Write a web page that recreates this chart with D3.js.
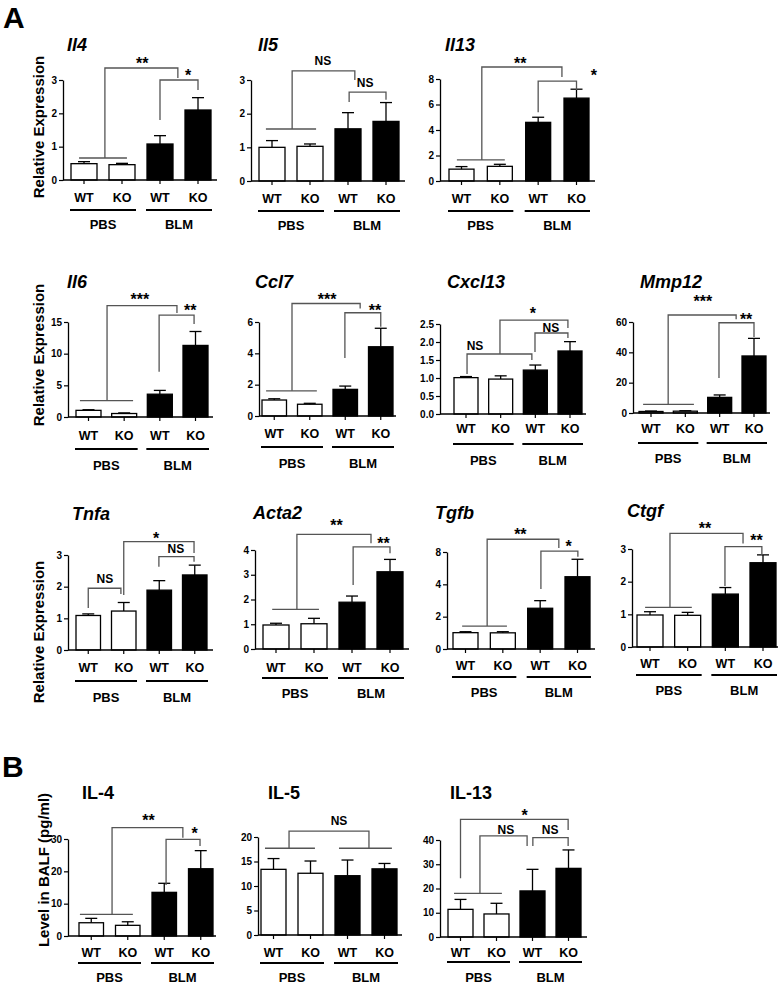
<!DOCTYPE html>
<html><head><meta charset="utf-8">
<script src="https://cdn.jsdelivr.net/npm/d3@7"></script>
<style>
html,body{margin:0;padding:0;background:#fff;}
svg{display:block;font-family:"Liberation Sans",Arial,Helvetica,sans-serif;font-weight:bold;}
</style></head><body>
<svg id="chart" width="784" height="985"></svg>
<script>
// ---------- categories ----------
const genotypes = ["WT", "KO", "WT", "KO"];
const treatments = ["PBS", "BLM"];

// ---------- series values (mean, SEM) ----------
const meanIl4 = [0.49, 0.46, 1.08, 2.10];   const semIl4 = [0.06, 0.04, 0.25, 0.37];
const meanIl5 = [1.00, 1.03, 1.55, 1.77];   const semIl5 = [0.20, 0.07, 0.48, 0.56];
const meanIl13 = [0.93, 1.15, 4.60, 6.50];  const semIl13 = [0.20, 0.16, 0.40, 0.70];
const meanIl6 = [1.05, 0.55, 3.60, 11.3];   const semIl6 = [0.10, 0.10, 0.60, 2.20];
const meanCcl7 = [1.02, 0.75, 1.70, 4.42];  const semCcl7 = [0.08, 0.06, 0.21, 1.18];
const meanCxcl13 = [1.01, 0.97, 1.22, 1.75]; const semCxcl13 = [0.03, 0.09, 0.14, 0.26];
const meanMmp12 = [1.0, 1.2, 10.3, 37.6];   const semMmp12 = [0.3, 0.3, 1.6, 11.6];
const meanTnfa = [1.09, 1.23, 1.89, 2.37];  const semTnfa = [0.05, 0.27, 0.30, 0.31];
const meanActa2 = [0.97, 1.02, 1.89, 3.12]; const semActa2 = [0.07, 0.22, 0.25, 0.50];
const meanTgfb = [1.01, 1.00, 2.52, 4.47];  const semTgfb = [0.06, 0.07, 0.47, 1.08];
const meanCtgf = [0.98, 0.97, 1.62, 2.58];  const semCtgf = [0.10, 0.09, 0.20, 0.24];
const meanIL4 = [4.1, 3.3, 13.5, 20.8];     const semIL4 = [1.36, 1.1, 2.8, 5.6];
const meanIL5 = [13.4, 12.6, 12.1, 13.5];   const semIL5 = [2.2, 2.5, 3.2, 1.1];
const meanIL13 = [11.4, 9.5, 19.0, 28.3];   const semIL13 = [4.1, 4.4, 8.9, 7.6];

// ---------- tick values / labels ----------
const ticks3 = [0, 1, 2, 3];           const labels3 = ["0", "1", "2", "3"];
const ticks8 = [0, 2, 4, 6, 8];        const labels8 = ["0", "2", "4", "6", "8"];
const ticks15 = [0, 5, 10, 15];        const labels15 = ["0", "5", "10", "15"];
const ticks6 = [0, 2, 4, 6];           const labels6 = ["0", "2", "4", "6"];
const ticks25 = [0, 0.5, 1, 1.5, 2, 2.5]; const labels25 = ["0.0", "0.5", "1.0", "1.5", "2.0", "2.5"];
const ticks60 = [0, 20, 40, 60];       const labels60 = ["0", "20", "40", "60"];
const ticks4 = [0, 1, 2, 3, 4];        const labels4 = ["0", "1", "2", "3", "4"];
const ticksTgfb = [0, 2, 4, 6];        const labelsTgfb = ["0", "2", "4", "8"];
const ticks30 = [0, 10, 20, 30];       const labels30 = ["0", "10", "20", "30"];
const ticks20 = [0, 5, 10, 15, 20];    const labels20 = ["0", "5", "10", "15", "20"];
const ticks40 = [0, 10, 20, 30, 40];   const labels40 = ["0", "10", "20", "30", "40"];

// ---------- significance annotations (x in bar-index units, y in data units) ----------
const sigIl4 = [
  {type: "line", x1: -0.13, x2: 1.13, y: 0.66},
  {type: "br", x1: 0.55, x2: 2.47, top: 3.36, b1: 0.66, b2: 3.06},
  {type: "txt", x: 1.53, y: 3.33, t: "**"},
  {type: "br", x1: 2.0, x2: 3.0, top: 3.0, b1: 1.8, b2: 2.7},
  {type: "txt", x: 2.74, y: 2.985, t: "*"}
];
const sigIl5 = [
  {type: "line", x1: -0.16, x2: 1.16, y: 1.545},
  {type: "br", x1: 0.53, x2: 2.18, top: 3.27, b1: 1.545, b2: 3.0},
  {type: "txt", x: 1.34, y: 3.45, t: "NS"},
  {type: "br", x1: 2.03, x2: 3.0, top: 2.64, b1: 2.35, b2: 2.41},
  {type: "txt", x: 2.45, y: 2.79, t: "NS"}
];
const sigIl13 = [
  {type: "line", x1: -0.12, x2: 1.13, y: 1.65},
  {type: "br", x1: 0.53, x2: 2.62, top: 8.94, b1: 1.65, b2: 8.15},
  {type: "txt", x: 1.53, y: 8.78, t: "**"},
  {type: "br", x1: 2.0, x2: 3.0, top: 7.84, b1: 5.4, b2: 7.13},
  {type: "txt", x: 3.45, y: 7.84, t: "*"}
];
const sigIl6 = [
  {type: "line", x1: -0.24, x2: 1.25, y: 2.57},
  {type: "br", x1: 0.52, x2: 2.48, top: 17.57, b1: 2.57, b2: 16.42},
  {type: "txt", x: 1.44, y: 17.68, t: "***"},
  {type: "br", x1: 1.98, x2: 2.96, top: 16.1, b1: 7.15, b2: 14.68},
  {type: "txt", x: 2.85, y: 15.87, t: "**"}
];
const sigCcl7 = [
  {type: "line", x1: -0.23, x2: 1.2, y: 1.61},
  {type: "br", x1: 0.5, x2: 2.42, top: 7.18, b1: 1.61, b2: 6.86},
  {type: "txt", x: 1.49, y: 7.08, t: "***"},
  {type: "br", x1: 1.99, x2: 3.0, top: 6.59, b1: 3.7, b2: 5.7},
  {type: "txt", x: 2.84, y: 6.38, t: "**"}
];
const sigCxcl13 = [
  {type: "br", x1: 0.03, x2: 1.9, top: 1.667, b1: 1.11, b2: 1.5},
  {type: "txt", x: 0.26, y: 1.78, t: "NS"},
  {type: "br", x1: 0.98, x2: 2.94, top: 2.61, b1: 1.667, b2: 2.39},
  {type: "txt", x: 1.93, y: 2.64, t: "*"},
  {type: "br", x1: 1.99, x2: 2.94, top: 2.25, b1: 1.72, b2: 2.11},
  {type: "txt", x: 2.45, y: 2.28, t: "NS"}
];
const sigMmp12 = [
  {type: "line", x1: -0.23, x2: 1.25, y: 5.74},
  {type: "br", x1: 0.5, x2: 2.48, top: 64.6, b1: 5.74, b2: 61.8},
  {type: "txt", x: 1.51, y: 69.9, t: "***"},
  {type: "br", x1: 1.98, x2: 3.0, top: 59.5, b1: 23.1, b2: 50.1},
  {type: "txt", x: 2.77, y: 58.35, t: "**"}
];
const sigTnfa = [
  {type: "br", x1: 0, x2: 0.92, top: 1.95, b1: 1.33, b2: 1.77},
  {type: "txt", x: 0.47, y: 2.12, t: "NS"},
  {type: "br", x1: 1.0, x2: 2.98, top: 3.42, b1: 1.74, b2: 3.06},
  {type: "txt", x: 1.91, y: 3.36, t: "*"},
  {type: "br", x1: 1.99, x2: 2.98, top: 2.95, b1: 2.63, b2: 2.79},
  {type: "txt", x: 2.47, y: 3.06, t: "NS"}
];
const sigActa2 = [
  {type: "line", x1: -0.1, x2: 1.13, y: 1.6},
  {type: "br", x1: 0.55, x2: 2.5, top: 4.63, b1: 1.6, b2: 4.27},
  {type: "txt", x: 1.59, y: 4.75, t: "**"},
  {type: "br", x1: 2.03, x2: 3.0, top: 4.13, b1: 2.59, b2: 3.87},
  {type: "txt", x: 2.83, y: 4.06, t: "**"}
];
const sigTgfb = [
  {type: "line", x1: -0.09, x2: 1.11, y: 1.42},
  {type: "br", x1: 0.58, x2: 2.5, top: 6.79, b1: 1.42, b2: 6.25},
  {type: "txt", x: 1.47, y: 6.77, t: "**"},
  {type: "br", x1: 2.02, x2: 3.01, top: 6.06, b1: 3.71, b2: 5.71},
  {type: "txt", x: 2.76, y: 5.97, t: "*"}
];
const sigCtgf = [
  {type: "line", x1: -0.13, x2: 1.11, y: 1.215},
  {type: "br", x1: 0.53, x2: 2.47, top: 3.48, b1: 1.215, b2: 3.17},
  {type: "txt", x: 1.46, y: 3.46, t: "**"},
  {type: "br", x1: 1.99, x2: 2.97, top: 3.07, b1: 1.87, b2: 2.82},
  {type: "txt", x: 2.83, y: 3.08, t: "**"}
];
const sigIL4 = [
  {type: "line", x1: -0.31, x2: 1.14, y: 6.71},
  {type: "br", x1: 0.57, x2: 2.51, top: 33.5, b1: 6.71, b2: 30.4},
  {type: "txt", x: 1.57, y: 33.9, t: "**"},
  {type: "br", x1: 2.05, x2: 2.98, top: 29.9, b1: 15.8, b2: 27.8},
  {type: "txt", x: 2.83, y: 30.0, t: "*"}
];
const sigIL5 = [
  {type: "line", x1: -0.23, x2: 1.12, y: 17.7},
  {type: "line", x1: 1.77, x2: 3.2, y: 17.7},
  {type: "br", x1: 0.42, x2: 2.58, top: 21.2, b1: 17.7, b2: 17.7},
  {type: "txt", x: 1.77, y: 22.45, t: "NS"}
];
const sigIL13 = [
  {type: "line", x1: -0.18, x2: 1.15, y: 18.0},
  {type: "br", x1: 0, x2: 2.99, top: 48.5, b1: 24.2, b2: 44.1},
  {type: "txt", x: 1.78, y: 48.0, t: "*"},
  {type: "br", x1: 0.54, x2: 1.85, top: 41.7, b1: 18.0, b2: 37.5},
  {type: "txt", x: 1.26, y: 42.5, t: "NS"},
  {type: "br", x1: 2.01, x2: 2.99, top: 41.0, b1: 37.5, b2: 37.5},
  {type: "txt", x: 2.49, y: 42.5, t: "NS"}
];

// ---------- panels ----------
const panels = [
  {key: "Il4", title: "Il4", italic: true, mean: meanIl4, sem: semIl4, max: 3, ticks: ticks3, labels: labels3, sig: sigIl4},
  {key: "Il5", title: "Il5", italic: true, mean: meanIl5, sem: semIl5, max: 3, ticks: ticks3, labels: labels3, sig: sigIl5},
  {key: "Il13", title: "Il13", italic: true, mean: meanIl13, sem: semIl13, max: 8, ticks: ticks8, labels: labels8, sig: sigIl13},
  {key: "Il6", title: "Il6", italic: true, mean: meanIl6, sem: semIl6, max: 15, ticks: ticks15, labels: labels15, sig: sigIl6},
  {key: "Ccl7", title: "Ccl7", italic: true, mean: meanCcl7, sem: semCcl7, max: 6, ticks: ticks6, labels: labels6, sig: sigCcl7},
  {key: "Cxcl13", title: "Cxcl13", italic: true, mean: meanCxcl13, sem: semCxcl13, max: 2.5, ticks: ticks25, labels: labels25, sig: sigCxcl13},
  {key: "Mmp12", title: "Mmp12", italic: true, mean: meanMmp12, sem: semMmp12, max: 60, ticks: ticks60, labels: labels60, sig: sigMmp12},
  {key: "Tnfa", title: "Tnfa", italic: true, mean: meanTnfa, sem: semTnfa, max: 3, ticks: ticks3, labels: labels3, sig: sigTnfa},
  {key: "Acta2", title: "Acta2", italic: true, mean: meanActa2, sem: semActa2, max: 4, ticks: ticks4, labels: labels4, sig: sigActa2},
  {key: "Tgfb", title: "Tgfb", italic: true, mean: meanTgfb, sem: semTgfb, max: 6, ticks: ticksTgfb, labels: labelsTgfb, sig: sigTgfb},
  {key: "Ctgf", title: "Ctgf", italic: true, mean: meanCtgf, sem: semCtgf, max: 3, ticks: ticks3, labels: labels3, sig: sigCtgf},
  {key: "IL4", title: "IL-4", italic: false, mean: meanIL4, sem: semIL4, max: 30, ticks: ticks30, labels: labels30, sig: sigIL4},
  {key: "IL5", title: "IL-5", italic: false, mean: meanIL5, sem: semIL5, max: 20, ticks: ticks20, labels: labels20, sig: sigIL5},
  {key: "IL13", title: "IL-13", italic: false, mean: meanIL13, sem: semIL13, max: 40, ticks: ticks40, labels: labels40, sig: sigIL13}
];

// ---------- layout (pixel geometry) ----------
const layout = {
  Il4:   {ax0: 63,  ax1: 217, b0: 71,  b1: 211, bw: 26,   yt: 80,  yb: 180, tx: 67,  ty: 51,  xl: 202, ul: 210, gl: 229},
  Il5:   {ax0: 251, ax1: 405, b0: 259, b1: 399, bw: 26,   yt: 80,  yb: 181, tx: 258, ty: 51,  xl: 203, ul: 211, gl: 230},
  Il13:  {ax0: 440, ax1: 595, b0: 449, b1: 589, bw: 25,   yt: 79,  yb: 181, tx: 445, ty: 51,  xl: 203, ul: 211, gl: 230},
  Il6:   {ax0: 68,  ax1: 213, b0: 76,  b1: 208, bw: 25,   yt: 322, yb: 417, tx: 67,  ty: 288, xl: 440, ul: 449, gl: 470},
  Ccl7:  {ax0: 259, ax1: 396, b0: 262, b1: 393, bw: 24.5, yt: 322, yb: 416, tx: 255, ty: 288, xl: 438, ul: 447, gl: 468},
  Cxcl13:{ax0: 440, ax1: 586, b0: 454, b1: 582, bw: 24,   yt: 324, yb: 414, tx: 447, ty: 288, xl: 433, ul: 444, gl: 465},
  Mmp12: {ax0: 633, ax1: 770, b0: 639, b1: 766, bw: 24,   yt: 322, yb: 413, tx: 640, ty: 288, xl: 433, ul: 443, gl: 463},
  Tnfa:  {ax0: 68,  ax1: 213, b0: 76,  b1: 207, bw: 24.5, yt: 555, yb: 650, tx: 72,  ty: 520, xl: 672, ul: 681, gl: 702},
  Acta2: {ax0: 255, ax1: 409, b0: 263, b1: 403, bw: 26,   yt: 550, yb: 649, tx: 253, ty: 519, xl: 672, ul: 678, gl: 698},
  Tgfb:  {ax0: 447, ax1: 595, b0: 453, b1: 590, bw: 25,   yt: 552, yb: 649, tx: 435, ty: 519, xl: 670, ul: 677, gl: 697},
  Ctgf:  {ax0: 632, ax1: 778, b0: 637, b1: 776, bw: 26,   yt: 549, yb: 647, tx: 627, ty: 517, xl: 668, ul: 675, gl: 695},
  IL4:   {ax0: 68,  ax1: 216, b0: 79,  b1: 213, bw: 24.5, yt: 839, yb: 936, tx: 82,  ty: 799, xl: 957, ul: 963, gl: 982},
  IL5:   {ax0: 258, ax1: 402, b0: 261, b1: 397, bw: 25,   yt: 837, yb: 935, tx: 268, ty: 799, xl: 957, ul: 963, gl: 982},
  IL13:  {ax0: 440, ax1: 587, b0: 448, b1: 581, bw: 25,   yt: 840, yb: 937, tx: 450, ty: 799, xl: 957, ul: 962, gl: 982}
};
const yTitles = [
  {text: "Relative Expression", x: 44, cy: 127},
  {text: "Relative Expression", x: 44, cy: 355},
  {text: "Relative Expression", x: 44, cy: 632},
  {text: "Level in BALF (pg/ml)", x: 49, cy: 870}
];
const panelLetters = [{text: "A", x: 3, y: 28}, {text: "B", x: 2, y: 777}];

const svg = d3.select("#chart");
const BR = "#555";

panels.forEach(p => {
  const L = layout[p.key];
  const g = svg.append("g").attr("class", "panel-" + p.key);
  const y = d3.scaleLinear().domain([0, p.max]).range([L.yb, L.yt]);
  const step = (L.b1 - L.b0 - L.bw) / 3;
  const x = d3.scaleBand().domain(d3.range(4)).range([L.b0, L.b1])
    .paddingInner(1 - L.bw / step).paddingOuter(0);
  const bw = x.bandwidth();
  const xc = t => x(0) + bw / 2 + t * x.step();

  // title
  g.append("text").attr("x", L.tx).attr("y", L.ty)
    .attr("font-size", 18).attr("font-style", p.italic ? "italic" : "normal")
    .text(p.title);

  // bars
  g.selectAll("rect.bar").data(p.mean).join("rect").attr("class", "bar")
    .attr("x", (d, i) => x(i)).attr("y", d => y(d))
    .attr("width", bw).attr("height", d => y(0) - y(d))
    .attr("fill", (d, i) => i < 2 ? "#fff" : "#000")
    .attr("stroke", "#000").attr("stroke-width", 1.3);

  // error bars (upper only)
  const eb = g.selectAll("g.err").data(p.mean).join("g").attr("class", "err")
    .attr("stroke", "#000").attr("stroke-width", 1.3);
  eb.append("line").attr("x1", (d, i) => xc(i)).attr("x2", (d, i) => xc(i))
    .attr("y1", d => y(d)).attr("y2", (d, i) => y(d + p.sem[i]));
  eb.append("line").attr("x1", (d, i) => xc(i) - 6).attr("x2", (d, i) => xc(i) + 6)
    .attr("y1", (d, i) => y(d + p.sem[i])).attr("y2", (d, i) => y(d + p.sem[i]));

  // y axis
  const ya = g.append("g").attr("transform", `translate(${L.ax0},0)`)
    .call(d3.axisLeft(y).tickValues(p.ticks).tickSize(4).tickSizeOuter(0).tickPadding(2)
      .tickFormat((d, i) => p.labels[i]));
  ya.selectAll("text").attr("font-size", 10).attr("font-weight", "bold")
    .attr("font-family", "Liberation Sans, Arial, sans-serif").attr("fill", "#000");
  ya.select(".domain").attr("stroke-width", 1.3);
  ya.selectAll(".tick line").attr("stroke-width", 1.2);

  // x axis: ticks + WT/KO labels
  const fsX = 12.5;
  const xa = g.append("g").attr("transform", `translate(0,${L.yb})`)
    .call(d3.axisBottom(x).tickSize(4).tickSizeOuter(0)
      .tickPadding(L.xl - L.yb - 4 - 0.71 * fsX)
      .tickFormat(i => genotypes[i]));
  xa.select(".domain").remove();
  xa.selectAll("text").attr("font-size", fsX).attr("font-weight", "bold")
    .attr("font-family", "Liberation Sans, Arial, sans-serif").attr("fill", "#000");
  xa.selectAll(".tick line").attr("stroke-width", 1.2);
  g.append("line").attr("x1", L.ax0).attr("x2", L.ax1).attr("y1", L.yb).attr("y2", L.yb)
    .attr("stroke", "#000").attr("stroke-width", 1.3);

  // treatment groups
  treatments.forEach((tName, gi) => {
    const xa0 = x(2 * gi) - 1, xa1 = x(2 * gi + 1) + bw + 1;
    g.append("line").attr("x1", xa0).attr("x2", xa1).attr("y1", L.ul).attr("y2", L.ul)
      .attr("stroke", "#000").attr("stroke-width", 2.2);
    g.append("text").attr("x", (xa0 + xa1) / 2).attr("y", L.gl)
      .attr("text-anchor", "middle").attr("font-size", 13).text(tName);
  });

  // significance
  p.sig.forEach(s => {
    if (s.type === "line") {
      g.append("line").attr("x1", xc(s.x1)).attr("x2", xc(s.x2))
        .attr("y1", y(s.y)).attr("y2", y(s.y))
        .attr("stroke", BR).attr("stroke-width", 1.3);
    } else if (s.type === "br") {
      const path = d3.path();
      path.moveTo(xc(s.x1), y(s.b1));
      path.lineTo(xc(s.x1), y(s.top));
      path.lineTo(xc(s.x2), y(s.top));
      path.lineTo(xc(s.x2), y(s.b2));
      g.append("path").attr("d", path.toString()).attr("fill", "none")
        .attr("stroke", BR).attr("stroke-width", 1.3);
    } else {
      const star = s.t.indexOf("*") >= 0;
      g.append("text").attr("x", xc(s.x)).attr("y", y(s.y))
        .attr("text-anchor", "middle").attr("font-size", star ? 16 : 12)
        .text(s.t);
    }
  });
});

// y-axis titles
yTitles.forEach(t => {
  svg.append("text").attr("transform", `translate(${t.x},${t.cy}) rotate(-90)`)
    .attr("text-anchor", "middle").attr("font-size", 15).text(t.text);
});
// panel letters
panelLetters.forEach(t => {
  svg.append("text").attr("x", t.x).attr("y", t.y).attr("font-size", 30).text(t.text);
});
</script>
</body></html>
